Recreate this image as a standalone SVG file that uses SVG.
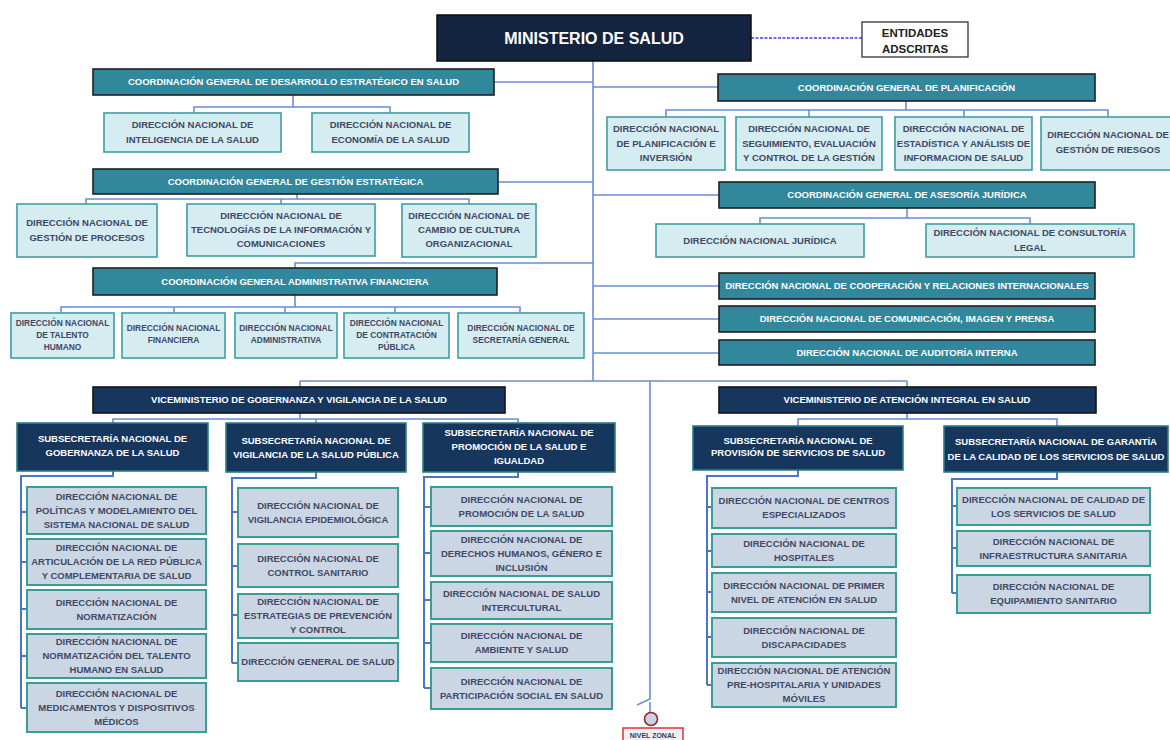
<svg xmlns="http://www.w3.org/2000/svg" width="1170" height="740" viewBox="0 0 1170 740">
<style>
text{font-family:"Liberation Sans",Arial,sans-serif;font-weight:bold;text-anchor:middle}
.min{fill:#132440;stroke:#0c0c0c;stroke-width:1.5}
.hdr{fill:#31879c;stroke:#202020;stroke-width:1.6}
.vice{fill:#17365d;stroke:#141414;stroke-width:1.6}
.sub{fill:#17365d;stroke:#2e7d86;stroke-width:1.6}
.lc{fill:#d5ecf0;stroke:#3e9fa2;stroke-width:1.6}
.lg{fill:#cbd6e4;stroke:#3a9c96;stroke-width:2}
.ent{fill:#ffffff;stroke:#333;stroke-width:1.3}
.w{fill:#ffffff;font-size:9.5px}
.d{fill:#3f4866;font-size:9.5px}
.s{fill:#3f4866;font-size:8.4px}
.c{fill:none;stroke:#6a8fd2;stroke-width:1.6}
.t{fill:none;stroke:#4a76c6;stroke-width:2}
</style>

<g id="connectors">
<path class="c" d="M593,61 V381 M300,381 H907 M300,381 V387 M907,381 V387"/>
<path class="c" d="M650,381 V699 L637,705 M650,702 V712"/>
<path d="M751,38 H862" fill="none" stroke="#3c3cf0" stroke-width="1.5" stroke-dasharray="3,1.5"/>
<path class="c" d="M494,82 H593 M498,182 H593 M593,263 H295 V268"/>
<path class="c" d="M593,87 H718 M593,195 H719 M593,286 H719 M593,319 H719 M593,353 H719"/>
<path class="c" d="M293,95 V107 M194,113 V107 H390 V113"/>
<path class="c" d="M297,194 V199 M86,204 V199 H469 V204 M281,199 V204"/>
<path class="c" d="M295,295 V307 M61,313 V307 H520 V313 M174,307 V313 M285,307 V313 M395,307 V313"/>
<path class="c" d="M906,101 V110 M666,117 V110 H1108 V117 M809,110 V117 M964,110 V117"/>
<path class="c" d="M907,208 V218 M760,224 V218 H1030 V224"/>
<path class="c" d="M300,413 V419 M113,423 V419 H518 V423 M316,419 V423"/>
<path class="c" d="M907,413 V419 M798,426 V419 H1057 V426"/>
<path class="t" d="M113,471 V476 H21 V708 M21,512 H27 M21,562 H27 M21,609 H27 M21,656 H27 M21,708 H27"/>
<path class="t" d="M316,472 V478 H232 V663 M232,512 H238 M232,566 H238 M232,615 H238 M232,663 H238"/>
<path class="t" d="M518,472 V477 H424 V688 M424,507 H431 M424,553 H431 M424,600 H431 M424,643 H431 M424,688 H431"/>
<path class="t" d="M798,470 V476 H707 V685 M707,507 H712 M707,551 H712 M707,592 H712 M707,637 H712 M707,685 H712"/>
<path class="t" d="M1057,472 V479 H952 V593 M952,506 H957 M952,548 H957 M952,593 H957"/>
</g>

<g id="ministerio"><rect class="min" x="437" y="15" width="314" height="46"/><text x="594" y="43.5" fill="#fff" font-size="16px">MINISTERIO DE SALUD</text></g>
<g id="entidades"><rect class="ent" x="862" y="22" width="106" height="35"/><text x="915" y="36.5" fill="#222" font-size="11.5px">ENTIDADES</text><text x="915" y="52.5" fill="#222" font-size="11.5px">ADSCRITAS</text></g>

<g id="cg-desarrollo"><rect class="hdr" x="93" y="69" width="401" height="26"/><text class="w" x="293.5" y="85.4">COORDINACIÓN GENERAL DE DESARROLLO ESTRATÉGICO EN SALUD</text></g>
<g id="dn-inteligencia"><rect class="lc" x="104" y="113" width="177" height="39"/><text class="d" x="192.5" y="128.4">DIRECCIÓN NACIONAL DE</text><text class="d" x="192.5" y="143.4">INTELIGENCIA DE LA SALUD</text></g>
<g id="dn-economia"><rect class="lc" x="312" y="113" width="157" height="39"/><text class="d" x="390.5" y="128.4">DIRECCIÓN NACIONAL DE</text><text class="d" x="390.5" y="143.4">ECONOMÍA DE LA SALUD</text></g>

<g id="cg-gestion"><rect class="hdr" x="93" y="169" width="405" height="25"/><text class="w" x="295.5" y="185.4">COORDINACIÓN GENERAL DE GESTIÓN ESTRATÉGICA</text></g>
<g id="dn-procesos"><rect class="lc" x="17" y="204" width="140" height="53"/><text class="d" x="87" y="226.4">DIRECCIÓN NACIONAL DE</text><text class="d" x="87" y="241.4">GESTIÓN DE PROCESOS</text></g>
<g id="dn-tic"><rect class="lc" x="187" y="204" width="188" height="52"/><text class="d" x="281" y="219.4">DIRECCIÓN NACIONAL DE</text><text class="d" x="281" y="233.4">TECNOLOGÍAS DE LA INFORMACIÓN Y</text><text class="d" x="281" y="247.4">COMUNICACIONES</text></g>
<g id="dn-cultura"><rect class="lc" x="402" y="204" width="134" height="53"/><text class="d" x="469" y="219.4">DIRECCIÓN NACIONAL DE</text><text class="d" x="469" y="233.4">CAMBIO DE CULTURA</text><text class="d" x="469" y="247.4">ORGANIZACIONAL</text></g>

<g id="cg-admfin"><rect class="hdr" x="93" y="268" width="404" height="27"/><text class="w" x="295" y="284.9">COORDINACIÓN GENERAL ADMINISTRATIVA FINANCIERA</text></g>
<g id="dn-talento"><rect class="lc" x="11" y="313" width="103" height="45"/><text class="s" x="62.5" y="326">DIRECCIÓN NACIONAL</text><text class="s" x="62.5" y="338">DE TALENTO</text><text class="s" x="62.5" y="350">HUMANO</text></g>
<g id="dn-financiera"><rect class="lc" x="122" y="313" width="103" height="45"/><text class="s" x="173.5" y="331">DIRECCIÓN NACIONAL</text><text class="s" x="173.5" y="343">FINANCIERA</text></g>
<g id="dn-administrativa"><rect class="lc" x="235" y="313" width="102" height="45"/><text class="s" x="286" y="331">DIRECCIÓN NACIONAL</text><text class="s" x="286" y="343">ADMINISTRATIVA</text></g>
<g id="dn-contratacion"><rect class="lc" x="344" y="313" width="105" height="45"/><text class="s" x="396.5" y="326">DIRECCIÓN NACIONAL</text><text class="s" x="396.5" y="338">DE CONTRATACIÓN</text><text class="s" x="396.5" y="350">PÚBLICA</text></g>
<g id="dn-secretaria"><rect class="lc" x="458" y="313" width="126" height="45"/><text class="s" x="521" y="331">DIRECCIÓN NACIONAL DE</text><text class="s" x="521" y="343">SECRETARÍA GENERAL</text></g>

<g id="cg-planificacion"><rect class="hdr" x="718" y="74" width="377" height="27"/><text class="w" x="906.5" y="90.9">COORDINACIÓN GENERAL DE PLANIFICACIÓN</text></g>
<g id="dn-planificacion"><rect class="lc" x="607" y="117" width="118" height="53"/><text class="d" x="666" y="132.4">DIRECCIÓN NACIONAL</text><text class="d" x="666" y="146.9">DE PLANIFICACIÓN E</text><text class="d" x="666" y="161.4">INVERSIÓN</text></g>
<g id="dn-seguimiento"><rect class="lc" x="736" y="117" width="146" height="53"/><text class="d" x="809" y="132.4">DIRECCIÓN NACIONAL DE</text><text class="d" x="809" y="146.9">SEGUIMIENTO, EVALUACIÓN</text><text class="d" x="809" y="161.4">Y CONTROL DE LA GESTIÓN</text></g>
<g id="dn-estadistica"><rect class="lc" x="895" y="117" width="137" height="53"/><text class="d" x="963.5" y="132.4">DIRECCIÓN NACIONAL DE</text><text class="d" x="963.5" y="146.9">ESTADÍSTICA Y ANÁLISIS DE</text><text class="d" x="963.5" y="161.4">INFORMACION DE SALUD</text></g>
<g id="dn-riesgos"><rect class="lc" x="1041" y="117" width="134" height="53"/><text class="d" x="1108" y="138.4">DIRECCIÓN NACIONAL DE</text><text class="d" x="1108" y="153.4">GESTIÓN DE RIESGOS</text></g>

<g id="cg-asesoria"><rect class="hdr" x="719" y="182" width="376" height="26"/><text class="w" x="907" y="198.4">COORDINACIÓN GENERAL DE ASESORÍA JURÍDICA</text></g>
<g id="dn-juridica"><rect class="lc" x="656" y="224" width="208" height="33"/><text class="d" x="760" y="244.4">DIRECCIÓN NACIONAL JURÍDICA</text></g>
<g id="dn-consultoria"><rect class="lc" x="926" y="224" width="208" height="33"/><text class="d" x="1030" y="236.4">DIRECCIÓN NACIONAL DE CONSULTORÍA</text><text class="d" x="1030" y="251.4">LEGAL</text></g>

<g id="dn-cooperacion"><rect class="hdr" x="719" y="273" width="376" height="26"/><text class="w" x="907" y="289.4">DIRECCIÓN NACIONAL DE COOPERACIÓN Y RELACIONES INTERNACIONALES</text></g>
<g id="dn-comunicacion"><rect class="hdr" x="719" y="306" width="376" height="26"/><text class="w" x="907" y="322.4">DIRECCIÓN NACIONAL DE COMUNICACIÓN, IMAGEN Y PRENSA</text></g>
<g id="dn-auditoria"><rect class="hdr" x="719" y="340" width="376" height="25"/><text class="w" x="907" y="355.9">DIRECCIÓN NACIONAL DE AUDITORÍA INTERNA</text></g>

<g id="vm-gobernanza"><rect class="vice" x="93" y="387" width="412" height="26"/><text class="w" x="299" y="403.4">VICEMINISTERIO DE GOBERNANZA Y VIGILANCIA DE LA SALUD</text></g>
<g id="vm-atencion"><rect class="vice" x="719" y="387" width="377" height="26"/><text class="w" x="907" y="403.4">VICEMINISTERIO DE ATENCIÓN INTEGRAL EN SALUD</text></g>

<g id="ss-gobernanza"><rect class="sub" x="17" y="423" width="191" height="48"/><text class="w" x="112.5" y="442.4">SUBSECRETARÍA NACIONAL DE</text><text class="w" x="112.5" y="456.4">GOBERNANZA DE LA SALUD</text></g>
<g id="ss-vigilancia"><rect class="sub" x="226" y="423" width="180" height="49"/><text class="w" x="316" y="444.4">SUBSECRETARÍA NACIONAL DE</text><text class="w" x="316" y="458.4">VIGILANCIA DE LA SALUD PÚBLICA</text></g>
<g id="ss-promocion"><rect class="sub" x="423" y="423" width="192" height="49"/><text class="w" x="519" y="436.4">SUBSECRETARÍA NACIONAL DE</text><text class="w" x="519" y="450.4">PROMOCIÓN DE LA SALUD E</text><text class="w" x="519" y="464.4">IGUALDAD</text></g>
<g id="ss-provision"><rect class="sub" x="693" y="426" width="210" height="44"/><text class="w" x="798" y="444.4">SUBSECRETARÍA NACIONAL DE</text><text class="w" x="798" y="456.4">PROVISIÓN DE SERVICIOS DE SALUD</text></g>
<g id="ss-garantia"><rect class="sub" x="944" y="426" width="224" height="46"/><text class="w" x="1056" y="445.4">SUBSECRETARÍA NACIONAL DE GARANTÍA</text><text class="w" x="1056" y="460.4">DE LA CALIDAD DE LOS SERVICIOS DE SALUD</text></g>

<g id="dn-politicas"><rect class="lg" x="27" y="487" width="179" height="47"/><text class="d" x="116.5" y="499.9">DIRECCIÓN NACIONAL DE</text><text class="d" x="116.5" y="513.9">POLÍTICAS Y MODELAMIENTO DEL</text><text class="d" x="116.5" y="527.9">SISTEMA NACIONAL DE SALUD</text></g>
<g id="dn-articulacion"><rect class="lg" x="27" y="539" width="179" height="46"/><text class="d" x="116.5" y="551.4">DIRECCIÓN NACIONAL DE</text><text class="d" x="116.5" y="565.4">ARTICULACIÓN DE LA RED PÚBLICA</text><text class="d" x="116.5" y="579.4">Y COMPLEMENTARIA DE SALUD</text></g>
<g id="dn-normatizacion"><rect class="lg" x="27" y="590" width="179" height="39"/><text class="d" x="116.5" y="605.9">DIRECCIÓN NACIONAL DE</text><text class="d" x="116.5" y="619.9">NORMATIZACIÓN</text></g>
<g id="dn-norm-talento"><rect class="lg" x="27" y="634" width="179" height="44"/><text class="d" x="116.5" y="645.4">DIRECCIÓN NACIONAL DE</text><text class="d" x="116.5" y="659.4">NORMATIZACIÓN DEL TALENTO</text><text class="d" x="116.5" y="673.4">HUMANO EN SALUD</text></g>
<g id="dn-medicamentos"><rect class="lg" x="27" y="683" width="179" height="49"/><text class="d" x="116.5" y="696.9">DIRECCIÓN NACIONAL DE</text><text class="d" x="116.5" y="710.9">MEDICAMENTOS Y DISPOSITIVOS</text><text class="d" x="116.5" y="724.9">MÉDICOS</text></g>

<g id="dn-epidemiologica"><rect class="lg" x="238" y="488" width="160" height="49"/><text class="d" x="318" y="508.9">DIRECCIÓN NACIONAL DE</text><text class="d" x="318" y="522.9">VIGILANCIA EPIDEMIOLÓGICA</text></g>
<g id="dn-control-sanitario"><rect class="lg" x="238" y="544" width="160" height="43"/><text class="d" x="318" y="561.9">DIRECCIÓN NACIONAL DE</text><text class="d" x="318" y="575.9">CONTROL SANITARIO</text></g>
<g id="dn-estrategias"><rect class="lg" x="238" y="594" width="160" height="44"/><text class="d" x="318" y="605.4">DIRECCIÓN NACIONAL DE</text><text class="d" x="318" y="619.4">ESTRATEGIAS DE PREVENCIÓN</text><text class="d" x="318" y="633.4">Y CONTROL</text></g>
<g id="dg-salud"><rect class="lg" x="238" y="643" width="160" height="38"/><text class="d" x="318" y="665.4">DIRECCIÓN GENERAL DE SALUD</text></g>

<g id="dn-promocion"><rect class="lg" x="431" y="487" width="181" height="39"/><text class="d" x="521.5" y="502.9">DIRECCIÓN NACIONAL DE</text><text class="d" x="521.5" y="516.9">PROMOCIÓN DE LA SALUD</text></g>
<g id="dn-derechos"><rect class="lg" x="431" y="531" width="181" height="45"/><text class="d" x="521.5" y="542.9">DIRECCIÓN NACIONAL DE</text><text class="d" x="521.5" y="556.9">DERECHOS HUMANOS, GÉNERO E</text><text class="d" x="521.5" y="570.9">INCLUSIÓN</text></g>
<g id="dn-intercultural"><rect class="lg" x="431" y="582" width="181" height="37"/><text class="d" x="521.5" y="596.9">DIRECCIÓN NACIONAL DE SALUD</text><text class="d" x="521.5" y="610.9">INTERCULTURAL</text></g>
<g id="dn-ambiente"><rect class="lg" x="431" y="624" width="181" height="38"/><text class="d" x="521.5" y="639.4">DIRECCIÓN NACIONAL DE</text><text class="d" x="521.5" y="653.4">AMBIENTE Y SALUD</text></g>
<g id="dn-participacion"><rect class="lg" x="431" y="668" width="181" height="41"/><text class="d" x="521.5" y="684.9">DIRECCIÓN NACIONAL DE</text><text class="d" x="521.5" y="698.9">PARTICIPACIÓN SOCIAL EN SALUD</text></g>

<g id="dn-centros"><rect class="lg" x="712" y="488" width="184" height="40"/><text class="d" x="804" y="504.4">DIRECCIÓN NACIONAL DE CENTROS</text><text class="d" x="804" y="518.4">ESPECIALIZADOS</text></g>
<g id="dn-hospitales"><rect class="lg" x="712" y="534" width="184" height="33"/><text class="d" x="804" y="546.9">DIRECCIÓN NACIONAL DE</text><text class="d" x="804" y="560.9">HOSPITALES</text></g>
<g id="dn-primer-nivel"><rect class="lg" x="712" y="573" width="184" height="39"/><text class="d" x="804" y="588.9">DIRECCIÓN NACIONAL DE PRIMER</text><text class="d" x="804" y="602.9">NIVEL DE ATENCIÓN EN SALUD</text></g>
<g id="dn-discapacidades"><rect class="lg" x="712" y="618" width="184" height="39"/><text class="d" x="804" y="633.9">DIRECCIÓN NACIONAL DE</text><text class="d" x="804" y="647.9">DISCAPACIDADES</text></g>
<g id="dn-prehospitalaria"><rect class="lg" x="712" y="663" width="184" height="44"/><text class="d" x="804" y="674.4">DIRECCIÓN NACIONAL DE ATENCIÓN</text><text class="d" x="804" y="688.4">PRE-HOSPITALARIA Y UNIDADES</text><text class="d" x="804" y="702.4">MÓVILES</text></g>

<g id="dn-calidad"><rect class="lg" x="957" y="488" width="193" height="37"/><text class="d" x="1053.5" y="502.9">DIRECCIÓN NACIONAL DE CALIDAD DE</text><text class="d" x="1053.5" y="516.9">LOS SERVICIOS DE SALUD</text></g>
<g id="dn-infraestructura"><rect class="lg" x="957" y="531" width="193" height="35"/><text class="d" x="1053.5" y="544.9">DIRECCIÓN NACIONAL DE</text><text class="d" x="1053.5" y="558.9">INFRAESTRUCTURA SANITARIA</text></g>
<g id="dn-equipamiento"><rect class="lg" x="957" y="575" width="193" height="38"/><text class="d" x="1053.5" y="590.4">DIRECCIÓN NACIONAL DE</text><text class="d" x="1053.5" y="604.4">EQUIPAMIENTO SANITARIO</text></g>

<g id="nivel-zonal"><circle cx="651" cy="719" r="6.5" fill="#c9d3e0" stroke="#8e2b2b" stroke-width="1.6"/><rect x="623" y="728" width="60" height="14" fill="#eef0f5" stroke="#e0303a" stroke-width="1.5"/><text x="653" y="737.5" fill="#333a55" font-size="7px">NIVEL ZONAL</text></g>
</svg>
